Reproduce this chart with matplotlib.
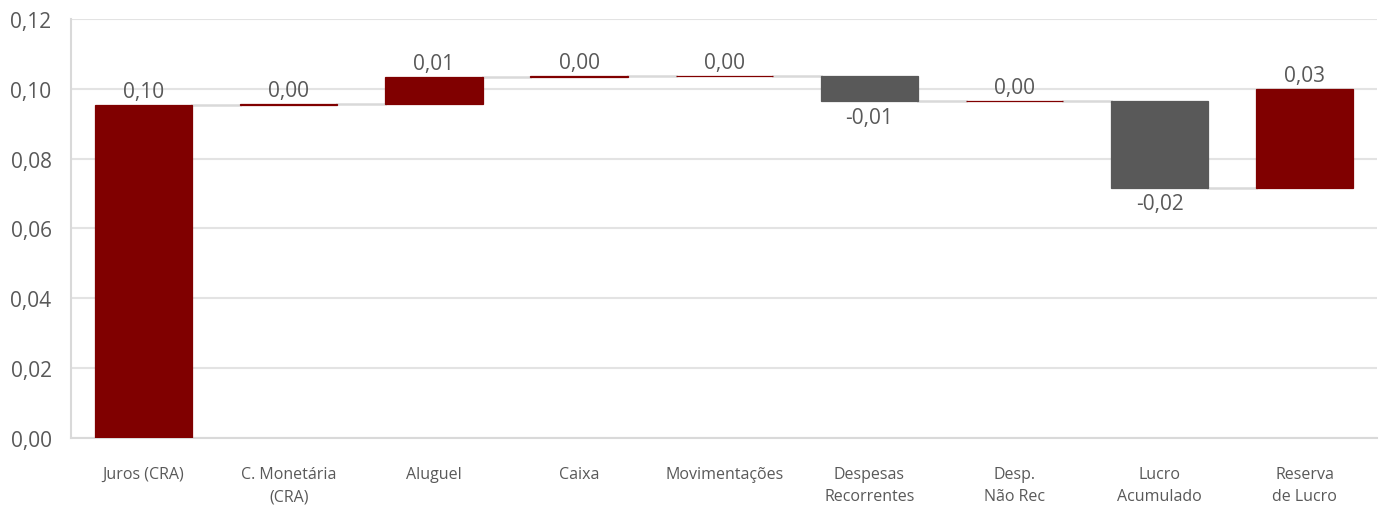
import matplotlib.pyplot as plt
import numpy as np

plt.rcParams['font.family'] = ['Open Sans', 'DejaVu Sans']

categorias = ['Juros (CRA)', 'C. Monetária\n(CRA)', 'Aluguel', 'Caixa', 'Movimentações',
              'Despesas\nRecorrentes', 'Desp.\nNão Rec', 'Lucro\nAcumulado', 'Reserva\nde Lucro']
valores = [0.0954, 0.0003, 0.0077, 0.0002, 0.0002, -0.0073, 0.0001, -0.0249, 0.0283]

vermelho = '#800000'
cinza = '#595959'
texto = '#595959'

fig = plt.figure(figsize=(13.81, 5.06), dpi=100)
ax = fig.add_axes([0.0514, 0.1324, 0.946, 0.8281])

x = np.arange(len(valores))
largura = 0.67
acum = np.cumsum(valores)
base = acum - np.array(valores)
inicio = np.where(np.array(valores) >= 0, base, acum)
cores = [vermelho if v >= 0 else cinza for v in valores]

# borda fina para que as barras muito pequenas continuem visíveis
ax.bar(x, np.abs(valores), bottom=inicio, width=largura, color=cores,
       edgecolor=cores, linewidth=0.9, zorder=3)

# linhas de ligação entre as barras
for i in range(len(valores) - 1):
    ax.plot([x[i] + largura / 2, x[i + 1] - largura / 2], [acum[i], acum[i]],
            color='#d9d9d9', lw=1.8, zorder=2)

for i, v in enumerate(valores):
    rotulo = ('%.2f' % v).replace('.', ',')
    if v >= 0:
        ax.annotate(rotulo, (x[i], acum[i]), xytext=(0, 2), textcoords='offset points',
                    ha='center', va='bottom', fontsize=15, color=texto)
    else:
        ax.annotate(rotulo, (x[i], acum[i]), xytext=(0, -4), textcoords='offset points',
                    ha='center', va='top', fontsize=15, color=texto)

ax.set_ylim(0, 0.12)
ax.set_xlim(-0.5, len(valores) - 0.5)
ticks = np.arange(0, 0.121, 0.02)
ax.set_yticks(ticks)
ax.set_yticklabels([('%.2f' % t).replace('.', ',') for t in ticks])
ax.set_xticks(x)
ax.set_xticklabels(categorias, linespacing=1.55)
ax.tick_params(axis='y', labelsize=15, colors=texto, length=0, pad=14)
ax.tick_params(axis='x', labelsize=11.5, colors=texto, length=0, pad=20)

ax.grid(axis='y', color='#e3e3e3', lw=1.5, zorder=0)
for lado in ['top', 'right']:
    ax.spines[lado].set_visible(False)
ax.spines['left'].set_color('#d9d9d9')
ax.spines['bottom'].set_color('#d9d9d9')
ax.spines['left'].set_linewidth(1.5)
ax.spines['bottom'].set_linewidth(1.5)

fig.savefig('out.png', dpi=100)
